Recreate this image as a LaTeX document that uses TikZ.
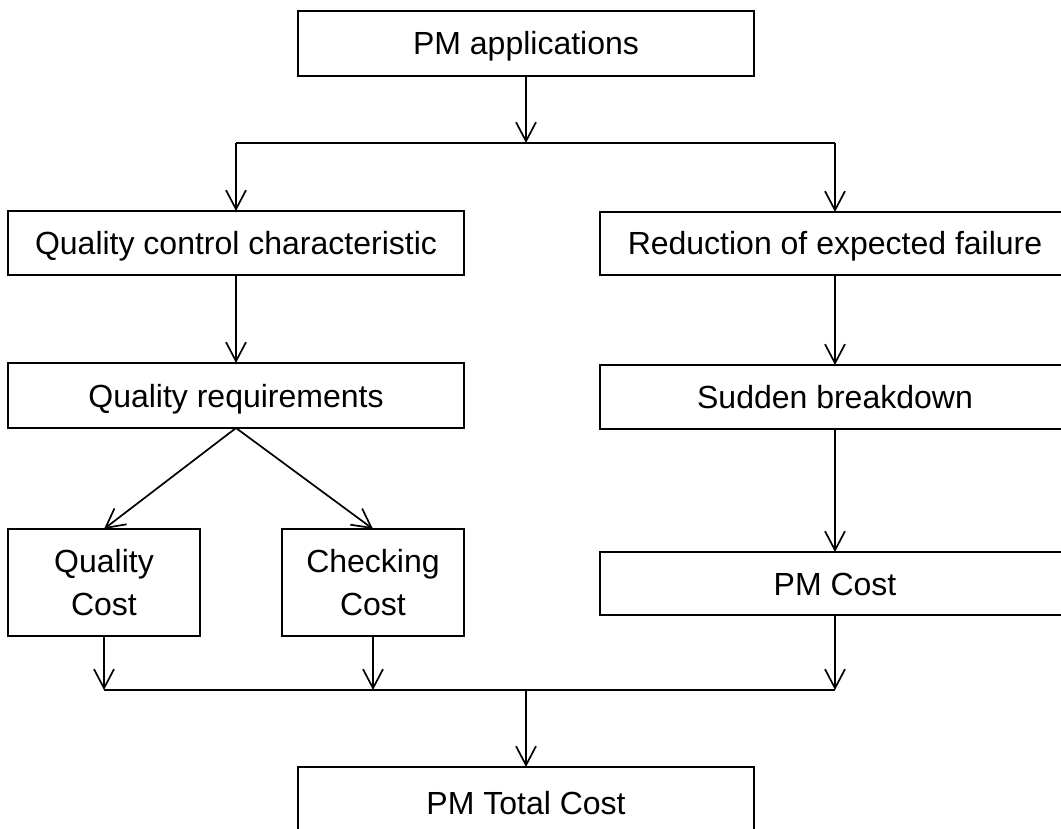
\documentclass[tikz,border=0pt]{standalone}
\usepackage{fontspec}
\setmainfont{Liberation Sans}
\usetikzlibrary{arrows.meta}
\begin{document}
\begin{tikzpicture}[x=1pt,y=1pt,
  box/.style={draw=black, line width=1.8pt, inner sep=0pt, outer sep=0pt, align=center,
    font=\fontsize{32}{43}\selectfont},
  oneline/.style={box, text height=23pt, text depth=0pt},
  conn/.style={line width=1.7pt, draw=black},
  arr/.style={conn, -{Straight Barb[length=19pt,width=20pt,line width=1.7pt]}}]
\useasboundingbox (0,0) rectangle (1061,-829);
\clip (0,0) rectangle (1061,-829);
\fill[white] (0,0) rectangle (1061,-829);

\node[oneline, minimum width=456pt, minimum height=65pt] (pma) at (526,-43.5) {PM applications};
\node[oneline, minimum width=456pt, minimum height=64pt] (qcc) at (236,-243) {Quality control characteristic};
\node[oneline, minimum width=470pt, minimum height=63pt] (ref) at (835,-243.5) {Reduction of expected failure};
\node[oneline, minimum width=456pt, minimum height=65pt] (qr) at (236,-395.5) {Quality requirements};
\node[oneline, minimum width=470pt, minimum height=64pt] (sb) at (835,-397) {Sudden breakdown};
\node[box, minimum width=192pt, minimum height=107pt] (qc) at (104,-582.5) {Quality\\Cost};
\node[box, minimum width=182pt, minimum height=107pt] (cc) at (373,-582.5) {Checking\\Cost};
\node[oneline, minimum width=470pt, minimum height=63pt] (pmc) at (835,-583.5) {PM Cost};
\node[oneline, minimum width=456pt, minimum height=72pt] (tot) at (526,-803) {PM Total Cost};

\coordinate (tM) at (526,-143);
\coordinate (tL) at (236,-143);
\coordinate (tR) at (835,-143);
\coordinate (bL) at (104,-690);
\coordinate (bM) at (373,-690);
\coordinate (bR) at (835,-690);
\coordinate (bC) at (526,-690);

\draw[arr] (pma.south) -- (tM);
\draw[conn] (tL) -- (tR);
\draw[arr] (tL) -- (qcc.north);
\draw[arr] (tR) -- (ref.north);
\draw[arr] (qcc.south) -- (qr.north);
\draw[arr] (ref.south) -- (sb.north);
\draw[arr] (qr.south) -- (qc.north);
\draw[arr] (qr.south) -- (cc.north);
\draw[arr] (sb.south) -- (pmc.north);
\draw[arr] (qc.south) -- (bL);
\draw[arr] (cc.south) -- (bM);
\draw[arr] (pmc.south) -- (bR);
\draw[conn] (bL) -- (bR);
\draw[arr] (bC) -- (tot.north);
\end{tikzpicture}
\end{document}
